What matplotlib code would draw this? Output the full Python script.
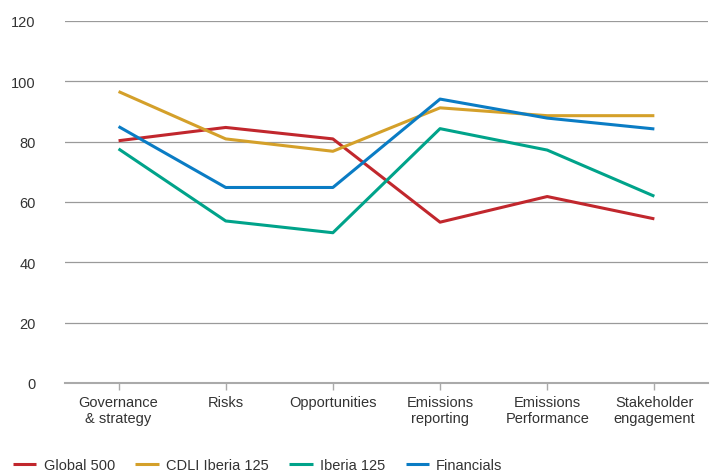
import numpy as np
import matplotlib.pyplot as plt

# categories and series
categories = ['Governance\n& strategy', 'Risks', 'Opportunities',
              'Emissions\nreporting', 'Emissions\nPerformance', 'Stakeholder\nengagement']
global_500 = [80.3, 84.7, 80.9, 53.3, 61.8, 54.4]
cdli_iberia_125 = [96.6, 80.9, 76.8, 91.2, 88.6, 88.6]
iberia_125 = [77.6, 53.7, 49.8, 84.3, 77.2, 61.9]
financials = [85.0, 64.8, 64.8, 94.1, 87.8, 84.2]
y_ticks = [0, 20, 40, 60, 80, 100, 120]

plt.rcParams['font.family'] = ['Liberation Sans', 'DejaVu Sans']
text_color = '#333333'

fig = plt.figure(figsize=(7.18, 4.77), dpi=100)
ax = fig.add_axes([0.0905, 0.195, 0.8955, 0.759])

x = np.arange(len(categories))
series = [
    ('Global 500', global_500, '#c1272d'),
    ('CDLI Iberia 125', cdli_iberia_125, '#d4a02a'),
    ('Iberia 125', iberia_125, '#00a38a'),
    ('Financials', financials, '#0a7cc4'),
]
for name, vals, col in series:
    ax.plot(x, vals, color=col, linewidth=2.2, label=name, solid_capstyle='butt', zorder=3)

ax.set_xlim(-0.5, len(categories) - 0.5)
ax.set_ylim(0, 120)
ax.set_yticks(y_ticks)
ax.set_xticks(x)
ax.set_xticklabels(categories, fontsize=10.5, color=text_color, linespacing=1.1)
ax.tick_params(axis='y', length=0, labelsize=10.5, labelcolor=text_color, pad=21)
ax.tick_params(axis='x', length=5, color='#aaaaaa', width=1, pad=4)

for t in y_ticks[1:]:
    ax.axhline(t, color='#9a9a9a', linewidth=0.9, zorder=1)

for s in ['left', 'right', 'top']:
    ax.spines[s].set_visible(False)
ax.spines['bottom'].set_color('#aaaaaa')
ax.spines['bottom'].set_linewidth(1.5)

fig.legend(loc='lower left', bbox_to_anchor=(0.0, -0.02), ncol=4, frameon=False,
           fontsize=10.5, handlelength=1.6, handletextpad=0.5, columnspacing=1.4,
           labelcolor=text_color)

fig.savefig('out.png', dpi=100)
